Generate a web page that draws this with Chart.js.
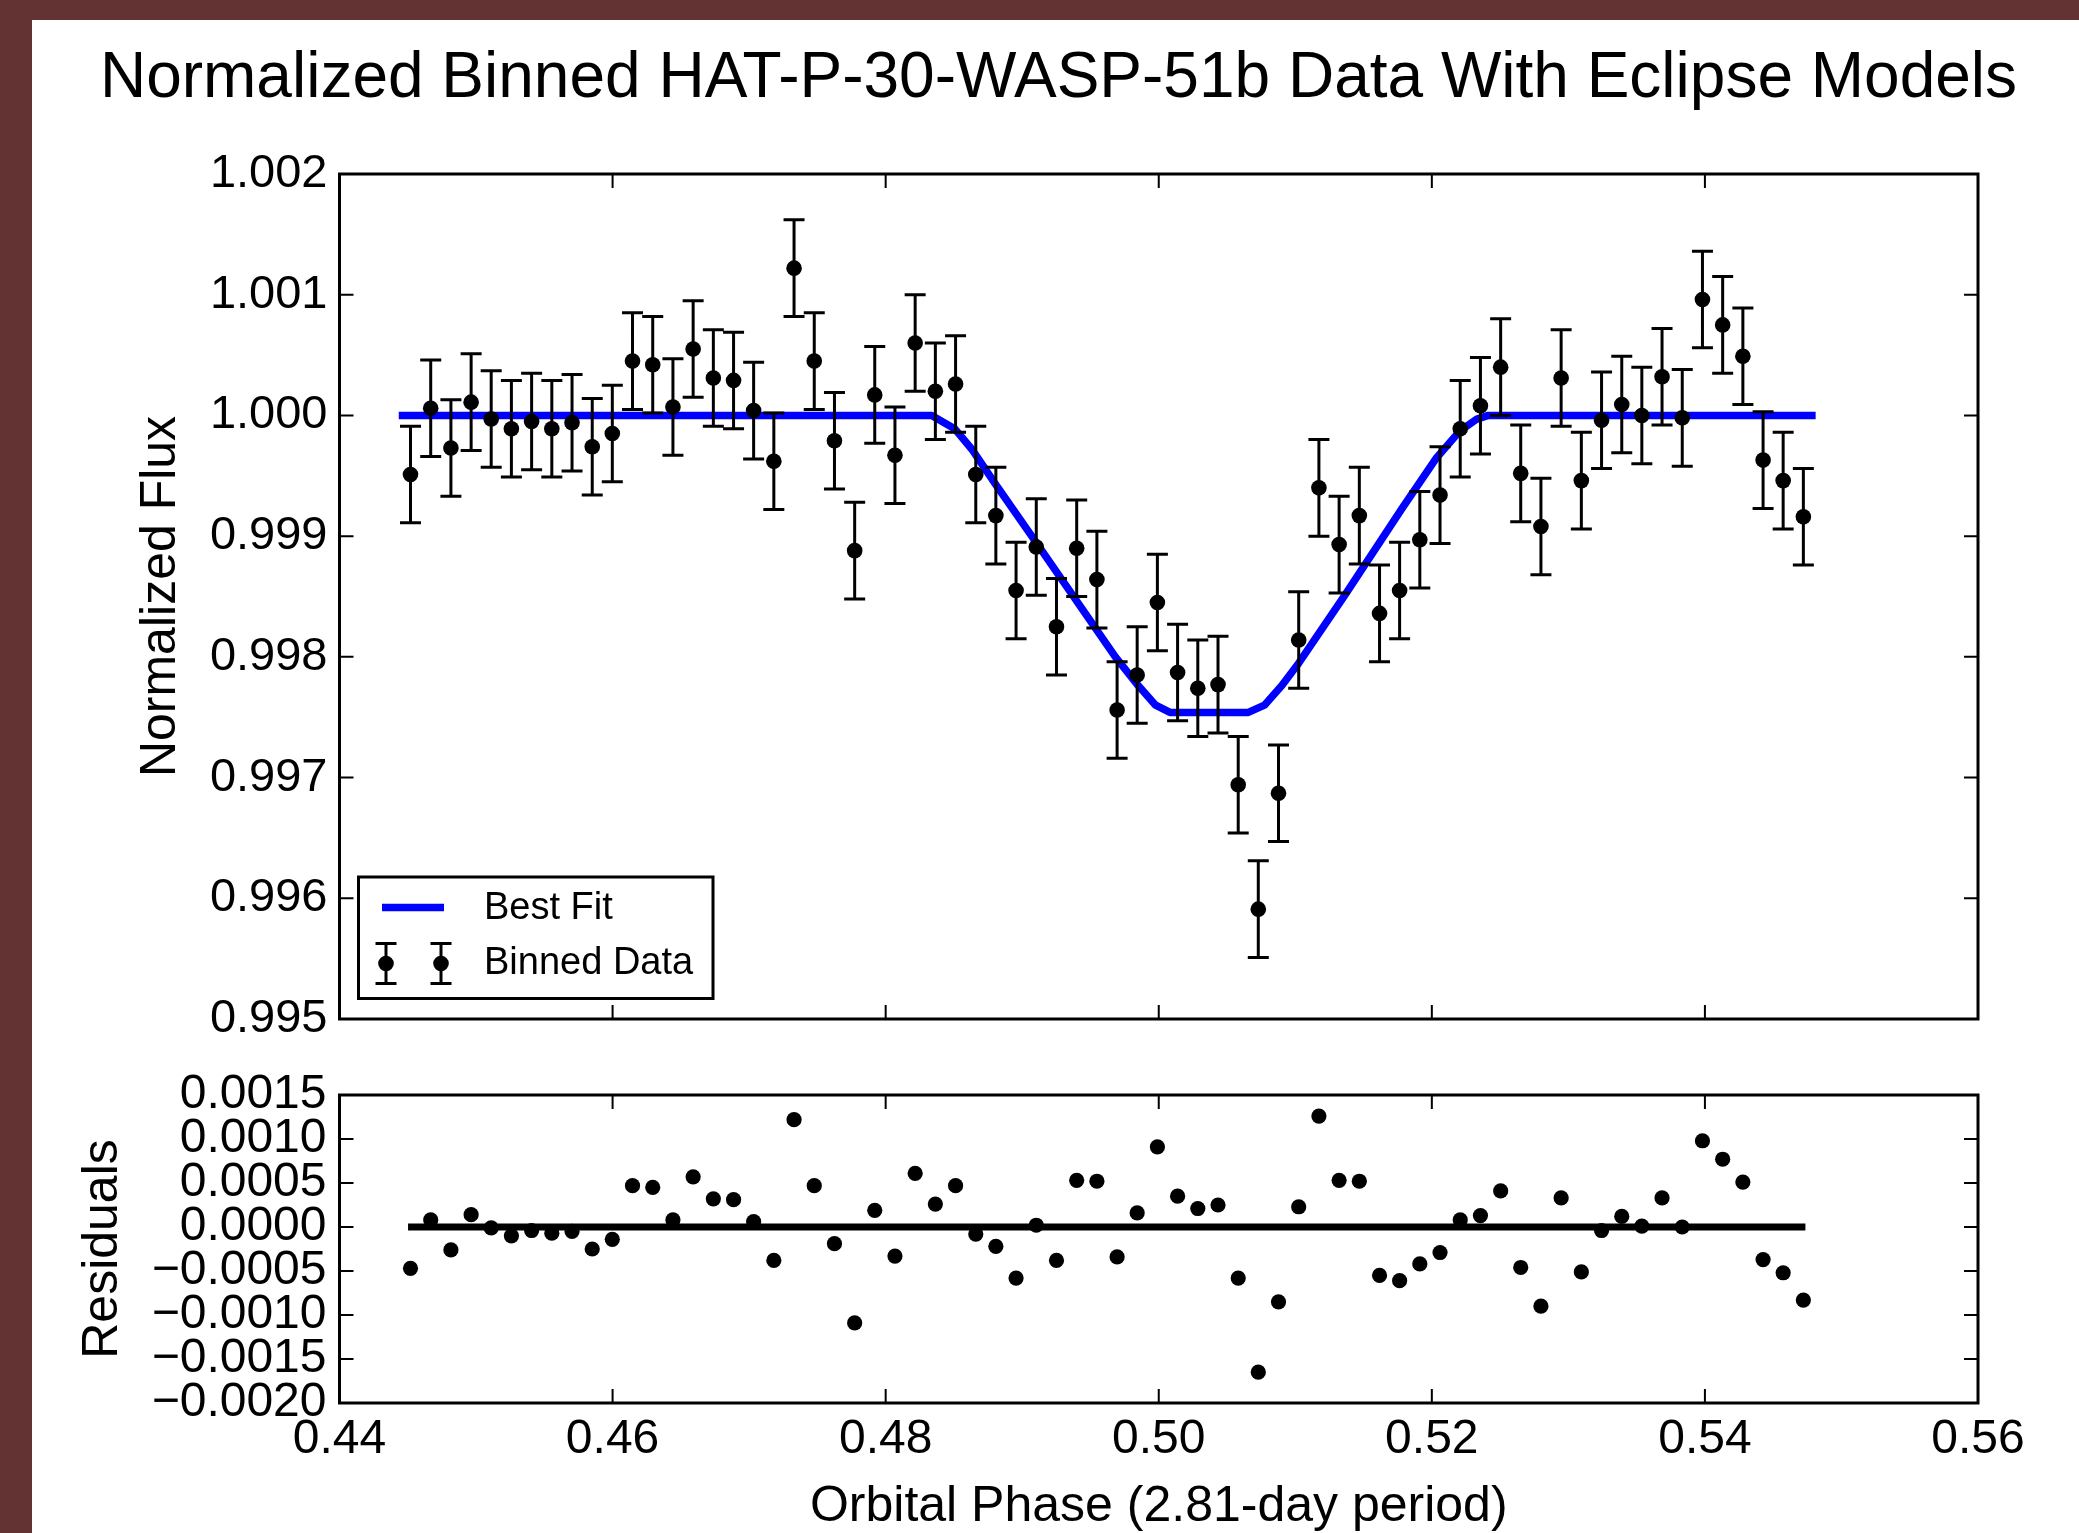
<!DOCTYPE html>
<html>
<head>
<meta charset="utf-8">
<script src="https://cdn.jsdelivr.net/npm/chart.js@4.4.1/dist/chart.umd.min.js"></script>
<style>
  html, body { margin:0; padding:0; }
  body { width:2079px; height:1533px; overflow:hidden; background:#633333; position:relative; }
  #paper { position:absolute; left:32px; top:20px; width:2047px; height:1513px; background:#ffffff; }
  canvas { position:absolute; left:38px; top:0; }
</style>
</head>
<body>
<div id="paper"></div>
<canvas id="mainChart" width="2041" height="1533"></canvas>
<canvas id="residChart" width="2041" height="1533"></canvas>
<script>
// ---------------- data ----------------
const phase = [0.44520,0.44668,0.44816,0.44964,0.45111,0.45259,0.45407,0.45555,0.45703,0.45851,
0.45998,0.46146,0.46294,0.46442,0.46590,0.46738,0.46886,0.47033,0.47181,0.47329,
0.47477,0.47625,0.47773,0.47920,0.48068,0.48216,0.48364,0.48512,0.48660,0.48807,
0.48955,0.49103,0.49251,0.49399,0.49547,0.49695,0.49842,0.49990,0.50138,0.50286,
0.50434,0.50582,0.50729,0.50877,0.51025,0.51173,0.51321,0.51469,0.51617,0.51764,
0.51912,0.52060,0.52208,0.52356,0.52504,0.52651,0.52799,0.52947,0.53095,0.53243,
0.53391,0.53538,0.53686,0.53834,0.53982,0.54130,0.54278,0.54426,0.54573,0.54721];

const flux = [0.99951,1.00006,0.99973,1.00011,0.99997,0.99989,0.99995,0.99989,0.99994,0.99974,
0.99985,1.00045,1.00042,1.00007,1.00055,1.00031,1.00029,1.00004,0.99962,1.00122,
1.00045,0.99979,0.99888,1.00017,0.99967,1.00060,1.00020,1.00026,0.99951,0.99917,
0.99855,0.99891,0.99825,0.99890,0.99864,0.99756,0.99785,0.99845,0.99787,0.99774,
0.99777,0.99694,0.99591,0.99687,0.99814,0.99940,0.99893,0.99917,0.99836,0.99855,
0.99897,0.99934,0.99989,1.00008,1.00040,0.99952,0.99908,1.00031,0.99946,0.99996,
1.00009,1.00000,1.00032,0.99998,1.00096,1.00075,1.00049,0.99963,0.99946,0.99916];

const fluxErr = [0.00040,0.00040,0.00040,0.00040,0.00040,0.00040,0.00040,0.00040,0.00040,0.00040,
0.00040,0.00040,0.00040,0.00040,0.00040,0.00040,0.00040,0.00040,0.00040,0.00040,
0.00040,0.00040,0.00040,0.00040,0.00040,0.00040,0.00040,0.00040,0.00040,0.00040,
0.00040,0.00040,0.00040,0.00040,0.00040,0.00040,0.00040,0.00040,0.00040,0.00040,
0.00040,0.00040,0.00040,0.00040,0.00040,0.00040,0.00040,0.00040,0.00040,0.00040,
0.00040,0.00040,0.00040,0.00040,0.00040,0.00040,0.00040,0.00040,0.00040,0.00040,
0.00040,0.00040,0.00040,0.00040,0.00040,0.00040,0.00040,0.00040,0.00040,0.00040];

const residuals = [-0.00047,0.00008,-0.00026,0.00014,-0.00001,-0.00010,-0.00004,-0.00007,-0.00005,-0.00025,
-0.00014,0.00047,0.00045,0.00008,0.00057,0.00032,0.00031,0.00006,-0.00038,0.00122,
0.00047,-0.00019,-0.00109,0.00019,-0.00033,0.00061,0.00026,0.00047,-0.00008,-0.00022,
-0.00058,0.00002,-0.00038,0.00053,0.00052,-0.00034,0.00016,0.00091,0.00035,0.00021,
0.00025,-0.00058,-0.00165,-0.00085,0.00023,0.00126,0.00053,0.00052,-0.00055,-0.00061,
-0.00042,-0.00029,0.00008,0.00013,0.00041,-0.00046,-0.00090,0.00033,-0.00051,-0.00004,
0.00012,0.00001,0.00033,0.00000,0.00098,0.00077,0.00051,-0.00037,-0.00052,-0.00083];

// best-fit eclipse model
const modelPhase = [0.44434,0.48337,0.48505,0.48631,0.48799,0.49094,0.49388,0.49682,0.49851,0.49977,0.50082,
0.50656,0.50774,0.50900,0.51026,0.51362,0.51782,0.52035,0.52204,0.52330,0.52414,0.54811];
const modelFlux  = [1.00000,1.00000,0.99989,0.99972,0.99944,0.99896,0.99848,0.99800,0.99776,0.99760,0.99754,
0.99754,0.99760,0.99776,0.99795,0.99851,0.99923,0.99965,0.99987,0.99997,1.00000,1.00000];

// zero line of the residual panel
const zeroPhase = [0.44502,0.54736];
const zeroValue = [0,0];

// ticks
const xTicks = [0.44,0.46,0.48,0.50,0.52,0.54,0.56];
const fluxTicks = [0.995,0.996,0.997,0.998,0.999,1.000,1.001,1.002];
const residTicks = [-0.0020,-0.0015,-0.0010,-0.0005,0.0000,0.0005,0.0010,0.0015];

const titleText = 'Normalized Binned HAT-P-30-WASP-51b Data With Eclipse Models';
const seriesNames = ['Best Fit','Binned Data'];

// ---------------- chart ----------------
const FONT = '"Liberation Sans", Arial, Helvetica, sans-serif';
Chart.defaults.font.family = FONT;
Chart.defaults.color = '#000';

const toXY = (xs, ys) => xs.map((v,i)=>({x:v, y:ys[i]}));

const frameTicks = {
  id:'frameTicks',
  afterDatasetsDraw(chart, args, opts) {
    const {ctx, chartArea:a} = chart;
    const x = chart.scales.x, y = chart.scales.y;
    ctx.save();
    ctx.strokeStyle = '#000';
    ctx.lineWidth = 2;
    ctx.beginPath();
    opts.xTicks.forEach(v => {
      const p = x.getPixelForValue(v);
      ctx.moveTo(p, a.bottom); ctx.lineTo(p, a.bottom - 14);
      ctx.moveTo(p, a.top); ctx.lineTo(p, a.top + 14);
    });
    opts.yTicks.forEach(v => {
      const p = y.getPixelForValue(v);
      ctx.moveTo(a.left, p); ctx.lineTo(a.left + 14, p);
      ctx.moveTo(a.right, p); ctx.lineTo(a.right - 14, p);
    });
    ctx.stroke();
    ctx.lineWidth = 3;
    ctx.strokeRect(a.left, a.top, a.right - a.left, a.bottom - a.top);
    ctx.restore();
  }
};

const errorBars = {
  id:'errorBars',
  beforeDatasetDraw(chart, args, opts) {
    if (args.index !== opts.datasetIndex) return;
    const {ctx} = chart;
    const x = chart.scales.x, y = chart.scales.y;
    ctx.save();
    ctx.strokeStyle = '#000';
    ctx.lineWidth = 3;
    ctx.beginPath();
    phase.forEach((ph, i) => {
      const px = x.getPixelForValue(ph);
      const t = y.getPixelForValue(flux[i] + fluxErr[i]);
      const b = y.getPixelForValue(flux[i] - fluxErr[i]);
      ctx.moveTo(px, t); ctx.lineTo(px, b);
      ctx.moveTo(px - 10.5, t); ctx.lineTo(px + 10.5, t);
      ctx.moveTo(px - 10.5, b); ctx.lineTo(px + 10.5, b);
    });
    ctx.stroke();
    ctx.restore();
  }
};

const boxLegend = {
  id:'boxLegend',
  afterDraw(chart) {
    const {ctx, chartArea:a} = chart;
    const L = a.left + 19, B = a.bottom - 20.5, W = 354.5, H = 121.5, T = B - H;
    ctx.save();
    ctx.fillStyle = '#fff';
    ctx.fillRect(L, T, W, H);
    ctx.strokeStyle = '#000';
    ctx.lineWidth = 3;
    ctx.strokeRect(L, T, W, H);
    // Best Fit
    ctx.strokeStyle = '#0000ff';
    ctx.lineWidth = 7.5;
    ctx.beginPath(); ctx.moveTo(L + 23.5, T + 30.5); ctx.lineTo(L + 85.5, T + 30.5); ctx.stroke();
    // Binned Data symbol
    ctx.strokeStyle = '#000';
    ctx.lineWidth = 3;
    ctx.fillStyle = '#000';
    [L + 27.5, L + 82.5].forEach(cx => {
      const cy = T + 86.5;
      ctx.beginPath();
      ctx.moveTo(cx, cy - 20); ctx.lineTo(cx, cy + 20);
      ctx.moveTo(cx - 10.5, cy - 20); ctx.lineTo(cx + 10.5, cy - 20);
      ctx.moveTo(cx - 10.5, cy + 20); ctx.lineTo(cx + 10.5, cy + 20);
      ctx.stroke();
      ctx.beginPath(); ctx.arc(cx, cy, 7.8, 0, Math.PI * 2); ctx.fill();
    });
    ctx.fillStyle = '#000';
    ctx.font = '38px ' + FONT;
    ctx.textAlign = 'left';
    ctx.textBaseline = 'middle';
    ctx.fillText(seriesNames[0], L + 125.5, T + 32);
    ctx.fillText(seriesNames[1], L + 125.5, T + 86.5);
    ctx.restore();
  }
};

new Chart(document.getElementById('mainChart'), {
  type:'scatter',
  data:{
    datasets:[
      { label:seriesNames[0], type:'line', data:toXY(modelPhase, modelFlux), borderColor:'#0000ff',
        borderWidth:7.5, pointRadius:0, fill:false, tension:0, order:2, borderJoinStyle:'round' },
      { label:seriesNames[1], data:toXY(phase, flux), backgroundColor:'#000', borderColor:'#000',
        pointRadius:7.8, pointBorderWidth:0, pointHoverRadius:7.8, order:1 }
    ]
  },
  options:{
    responsive:false, animation:false, events:[],
    layout:{ padding:{ left:52, right:52, top:0, bottom:0 } },
    plugins:{
      legend:{ display:false },
      tooltip:{ enabled:false },
      title:{ display:true, text:titleText, color:'#000',
        font:{ size:64, weight:'normal', family:FONT, lineHeight:1.2 },
        padding:{ top:40.6, bottom:56.6 } },
      frameTicks:{ xTicks:xTicks, yTicks:fluxTicks },
      errorBars:{ datasetIndex:1 }
    },
    scales:{
      x:{ type:'linear', position:'bottom', min:0.44, max:0.56,
        ticks:{ display:false, stepSize:0.02 },
        grid:{ display:false, drawTicks:false }, border:{ display:false },
        afterFit(s){ s.height = 514; s.paddingLeft = 0; s.paddingRight = 0; } },
      y:{ type:'linear', position:'left', min:0.995, max:1.002,
        ticks:{ stepSize:0.001, autoSkip:false, padding:12, color:'#000',
          font:{ size:47, family:FONT }, callback:(v)=>Number(v).toFixed(3) },
        grid:{ display:false, drawTicks:false }, border:{ display:false },
        title:{ display:true, text:'Normalized Flux', color:'#000',
          font:{ size:50, family:FONT, lineHeight:1.2 }, padding:{ top:41, bottom:0 } },
        afterFit(s){ s.width = 249.5; s.paddingTop = 0; s.paddingBottom = 0; } },
      yRight:{ type:'linear', position:'right', min:0.995, max:1.002,
        ticks:{ display:false },
        grid:{ display:false, drawTicks:false }, border:{ display:false },
        afterFit(s){ s.width = 49; s.paddingTop = 0; s.paddingBottom = 0; } }
    }
  },
  plugins:[errorBars, frameTicks, boxLegend]
});

const fmtResid = (v) => {
  if (Math.abs(v) < 1e-10) return '0.0000';
  const s = Number(v).toFixed(4);
  return s.replace('-', '\u2212');
};

new Chart(document.getElementById('residChart'), {
  type:'scatter',
  data:{
    datasets:[
      { label:'Zero', type:'line', data:toXY(zeroPhase, zeroValue), borderColor:'#000',
        borderWidth:7, pointRadius:0, fill:false, order:2 },
      { label:'Residuals', data:toXY(phase, residuals), backgroundColor:'#000', borderColor:'#000',
        pointRadius:7.6, pointBorderWidth:0, pointHoverRadius:7.6, order:1 }
    ]
  },
  options:{
    responsive:false, animation:false, events:[],
    layout:{ padding:{ left:0, right:101, top:1095, bottom:0 } },
    plugins:{
      legend:{ display:false },
      tooltip:{ enabled:false },
      title:{ display:false },
      frameTicks:{ xTicks:xTicks, yTicks:residTicks }
    },
    scales:{
      x:{ type:'linear', position:'bottom', min:0.44, max:0.56,
        ticks:{ stepSize:0.02, autoSkip:false, maxRotation:0, minRotation:0, padding:8, color:'#000',
          font:{ size:48, family:FONT }, callback:(v)=>Number(v).toFixed(2) },
        grid:{ display:false, drawTicks:false }, border:{ display:false },
        title:{ display:true, text:'Orbital Phase (2.81-day period)', color:'#000',
          font:{ size:50, family:FONT, lineHeight:1.2 }, padding:{ top:0, bottom:-4 } },
        afterFit(s){ s.height = 130; s.paddingLeft = 0; s.paddingRight = 0; } },
      y:{ type:'linear', position:'left', min:-0.002, max:0.0015,
        ticks:{ stepSize:0.0005, autoSkip:false, padding:13, color:'#000',
          font:{ size:48, family:FONT }, callback:fmtResid },
        grid:{ display:false, drawTicks:false }, border:{ display:false },
        title:{ display:true, text:'Residuals', color:'#000',
          font:{ size:50, family:FONT, lineHeight:1.2 }, padding:{ top:35, bottom:0 } },
        afterFit(s){ s.width = 301.5; s.paddingTop = 0; s.paddingBottom = 0; } }
    }
  },
  plugins:[frameTicks]
});
</script>
</body>
</html>
